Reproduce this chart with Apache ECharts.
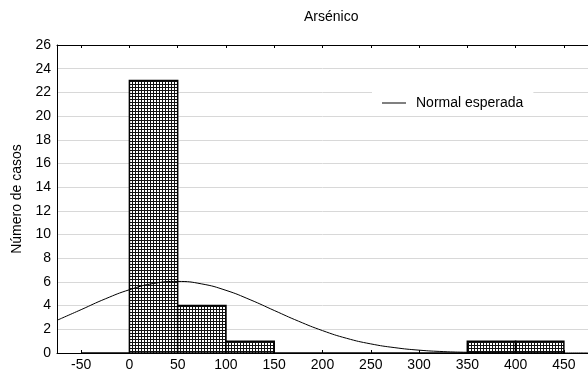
<!DOCTYPE html>
<html>
<head>
<meta charset="utf-8">
<script src="https://cdn.jsdelivr.net/npm/echarts@6/dist/echarts.min.js"></script>
<style>html,body{margin:0;padding:0;background:#fff;}#c{width:588px;height:374px;}</style>
</head>
<body>
<div id="c"></div>
<script>
// Histogram bins (start, end) and counts
const binStarts = [-50, 0, 50, 100, 150, 200, 250, 300, 350, 400];
const binEnds   = [0, 50, 100, 150, 200, 250, 300, 350, 400, 450];
const counts    = [0, 23, 4, 1, 0, 0, 0, 0, 1, 1];
// Expected normal curve
const curveX = [-75, -50, -25, 0, 25, 50, 75, 100, 125, 150, 175, 200, 225, 250, 275, 300, 325, 350, 375, 400, 425, 450, 475];
const curveY = [2.76, 3.66, 4.57, 5.34, 5.87, 6.04, 5.83, 5.29, 4.50, 3.59, 2.69, 1.89, 1.24, 0.77, 0.45, 0.24, 0.12, 0.06, 0.03, 0.011, 0.004, 0.001, 0.0];
const xTicks = [-50, 0, 50, 100, 150, 200, 250, 300, 350, 400, 450];
const yTicks = [0, 2, 4, 6, 8, 10, 12, 14, 16, 18, 20, 22, 24, 26];

const pc = document.createElement('canvas');
pc.width = 3; pc.height = 3;
const g = pc.getContext('2d');
g.fillStyle = '#ffffff'; g.fillRect(0, 0, 3, 3);
g.fillStyle = '#111111'; g.fillRect(0, 0, 3, 1); g.fillRect(0, 0, 1, 3);

const chart = echarts.init(document.getElementById('c'), null, {renderer: 'canvas'});
const font = 'Liberation Sans, Arial, sans-serif';
chart.setOption({
  animation: false,
  title: {text: 'Arsénico', left: 299, top: 5,
    textStyle: {fontFamily: font, fontSize: 14, fontWeight: 'normal', color: '#000'}},
  legend: {data: ['Normal esperada'], left: 372, top: 90, width: 162, height: 24,
    backgroundColor: '#fff', padding: [6, 10, 6, 10], itemWidth: 24, itemHeight: 1, itemGap: 10,
    textStyle: {fontFamily: font, fontSize: 14, color: '#000', padding: [0, 0, 0, 5]},
    icon: 'rect'},
  grid: {left: 57, top: 45, width: 536, height: 308, containLabel: false},
  xAxis: [{
    type: 'value', min: -75, max: 475, position: 'bottom',
    axisLine: {show: true, lineStyle: {color: '#000', width: 1}},
    axisTick: {show: true, inside: true, length: 3, lineStyle: {color: '#000'}, customValues: xTicks},
    axisLabel: {customValues: xTicks, fontFamily: font, fontSize: 14, color: '#000', margin: 5},
    splitLine: {show: false}
  }, {
    type: 'value', min: -75, max: 475, position: 'top',
    axisLine: {show: true, onZero: false, lineStyle: {color: '#000', width: 1}},
    axisTick: {show: true, inside: true, length: 3, lineStyle: {color: '#000'}, customValues: xTicks},
    axisLabel: {show: false},
    splitLine: {show: false}
  }],
  yAxis: {
    type: 'value', min: 0, max: 26, interval: 2,
    name: 'Número de casos', nameLocation: 'middle', nameGap: 29, nameRotate: 90,
    nameTextStyle: {fontFamily: font, fontSize: 14, color: '#000'},
    axisLine: {show: true, onZero: false, lineStyle: {color: '#000', width: 1}},
    axisTick: {show: false},
    axisLabel: {fontFamily: font, fontSize: 14, color: '#000', margin: 6},
    splitLine: {show: true, lineStyle: {color: '#d8d8d8', width: 1}}
  },
  series: [{
    type: 'custom', name: 'Histograma', xAxisIndex: 0,
    data: binStarts.map((s, i) => [s, binEnds[i], counts[i]]),
    encode: {x: [0, 1], y: 2},
    renderItem: function (params, api) {
      const p0 = api.coord([api.value(0), api.value(2)]);
      const p1 = api.coord([api.value(1), 0]);
      return {
        type: 'rect',
        shape: {x: p0[0], y: p0[1], width: p1[0] - p0[0], height: p1[1] - p0[1]},
        style: {fill: {image: pc, repeat: 'repeat'}, stroke: '#000', lineWidth: 1.5}
      };
    },
    z: 2
  }, {
    type: 'line', name: 'Normal esperada', xAxisIndex: 0,
    data: curveX.map((x, i) => [x, curveY[i]]),
    smooth: true, showSymbol: false, symbol: 'none',
    lineStyle: {color: '#000', width: 1}, itemStyle: {color: '#000'},
    z: 3
  }]
});
</script>
</body>
</html>
